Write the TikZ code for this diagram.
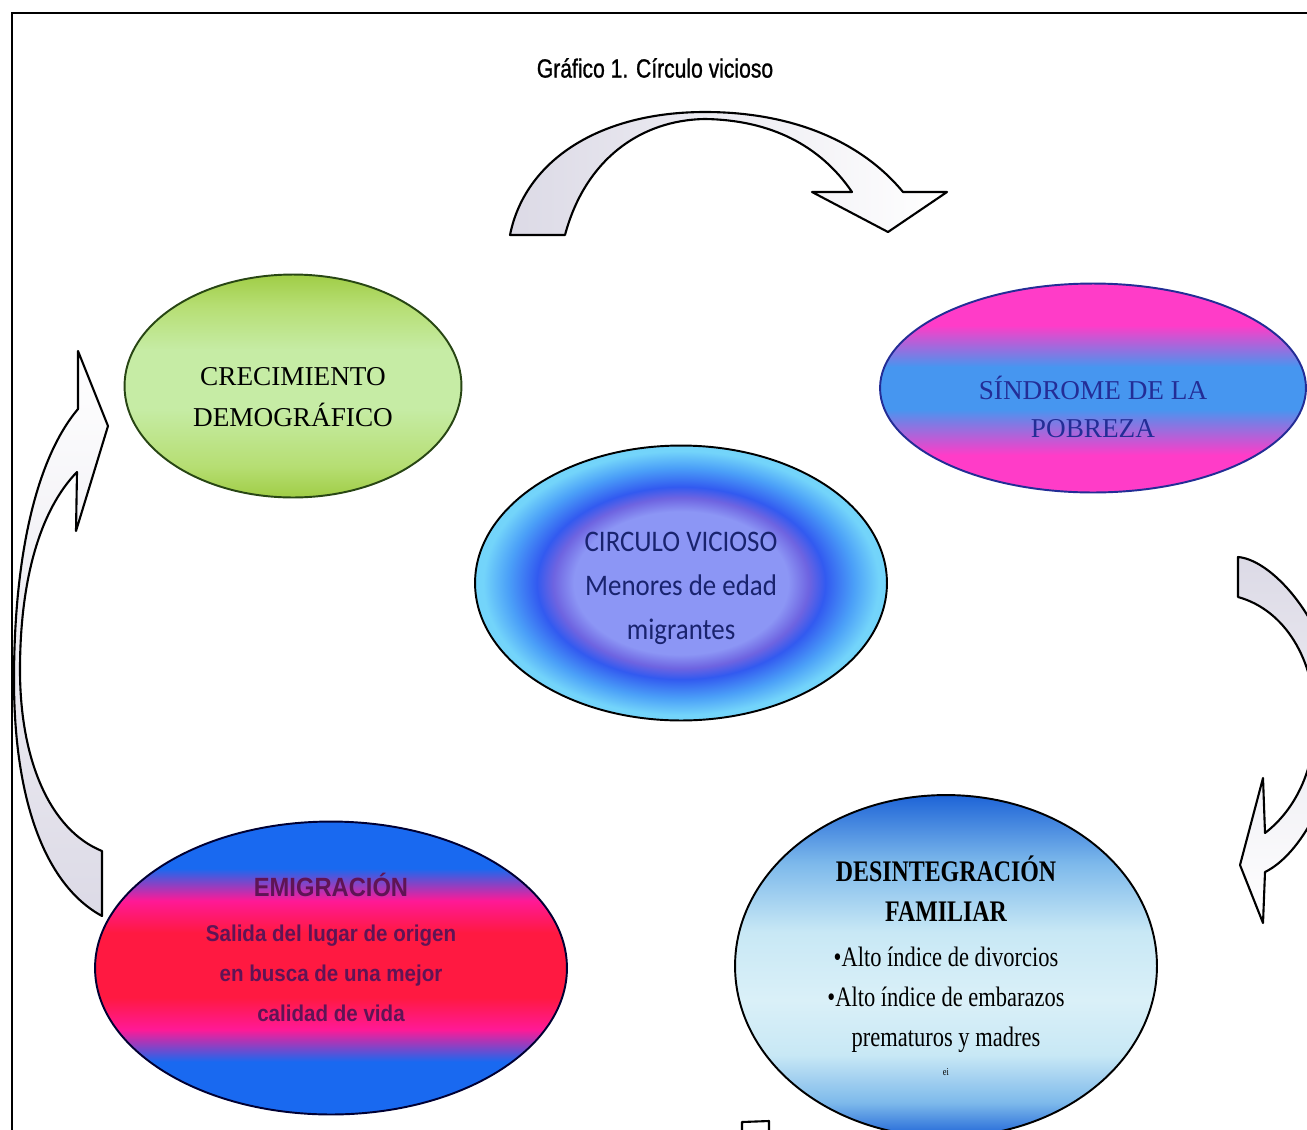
\documentclass[tikz,border=0pt]{standalone}
\usepackage{fontspec}
\setmainfont{Liberation Serif}
\newfontfamily\titlefont[FakeStretch=0.8, FakeBold=1]{Liberation Sans}
\newfontfamily\emifont[FakeStretch=0.9]{Liberation Sans}
\newfontfamily\desfont[FakeStretch=0.8]{Liberation Serif}
\newfontfamily\circfont[FakeStretch=0.9]{Carlito}
\usepackage{tikz}
\usetikzlibrary{shapes}

\definecolor{pobrosa}{RGB}{255,60,200}
\definecolor{pobazul}{RGB}{70,150,240}
\definecolor{pobtexto}{RGB}{35,45,150}
\definecolor{emiazul}{RGB}{25,105,240}
\definecolor{emirosa}{RGB}{255,25,150}
\definecolor{emirojo}{RGB}{255,25,65}
\definecolor{emitexto}{RGB}{95,20,85}
\definecolor{desazul}{RGB}{30,100,215}
\definecolor{desmedio}{RGB}{125,185,235}
\definecolor{desclaro}{RGB}{200,232,245}
\definecolor{desblanco}{RGB}{218,240,248}
\definecolor{crecborde}{RGB}{160,205,70}
\definecolor{crecmedio}{RGB}{182,222,115}
\definecolor{crecclaro}{RGB}{198,236,165}
\definecolor{crecline}{RGB}{40,70,20}
\definecolor{circcentro}{RGB}{140,150,245}
\definecolor{circanillo}{RGB}{110,100,225}
\definecolor{circazul}{RGB}{50,90,240}
\definecolor{circceleste}{RGB}{75,160,248}
\definecolor{circborde}{RGB}{115,212,250}
\definecolor{circtexto}{RGB}{25,35,110}
\definecolor{flechagris}{RGB}{220,218,230}

\pgfdeclareverticalshading{pobreza}{100bp}{color(0bp)=(pobrosa); color(34bp)=(pobrosa); color(45bp)=(pobazul); color(55bp)=(pobazul); color(65bp)=(pobrosa); color(100bp)=(pobrosa)}
\pgfdeclareverticalshading{emigracion}{100bp}{color(0bp)=(emiazul); color(34bp)=(emiazul); color(39.5bp)=(emirosa); color(45bp)=(emirojo); color(56bp)=(emirojo); color(61.5bp)=(emirosa); color(67bp)=(emiazul); color(100bp)=(emiazul)}
\pgfdeclareverticalshading{desintegracion}{100bp}{color(0bp)=(desazul); color(25bp)=(desazul); color(30bp)=(desmedio); color(37bp)=(desclaro); color(45bp)=(desblanco); color(55bp)=(desclaro); color(65bp)=(desmedio); color(75bp)=(desazul); color(100bp)=(desazul)}
\pgfdeclareverticalshading{crecimiento}{100bp}{color(0bp)=(crecborde); color(25bp)=(crecborde); color(32bp)=(crecmedio); color(45bp)=(crecclaro); color(58bp)=(crecclaro); color(68bp)=(crecmedio); color(75bp)=(crecborde); color(100bp)=(crecborde)}
\pgfdeclareradialshading{circulo}{\pgfpointorigin}{color(0bp)=(circcentro); color(13bp)=(circcentro); color(15.5bp)=(circanillo); color(17.5bp)=(circazul); color(21bp)=(circceleste); color(24bp)=(circborde); color(50bp)=(circborde)}

\tikzset{
  bubble/.style = {ellipse, inner sep = 0pt, line width = 1.1pt},
  bubbletext/.style = {align = center, inner sep = 0pt},
  flecha/.style = {draw = black, line width = 1.2pt, line join = round},
}

\begin{document}
\begin{tikzpicture}[x = 0.02cm, y = -0.02cm]
\useasboundingbox (0,0) rectangle (1307,1129);
\clip (0,0) rectangle (1307,1129);
\fill[white] (0,0) rectangle (1307,1129);

% marco
\draw[line width = 1pt] (12,1140) -- (12,13) -- (1320,13);

\draw (655,68) node[name = titulo, font = \titlefont\fontsize{15}{18}\selectfont]{Gráfico 1. Círculo vicioso};

% elipses
\draw (293,386) node[name = crec, bubble, draw = crecline, shading = crecimiento, minimum width = 6.74cm, minimum height = 4.46cm]{};
\draw (crec.center) + (0,11) node[name = crectxt, bubbletext, font = \fontsize{15.5}{23}\selectfont]{CRECIMIENTO\\DEMOGRÁFICO};

\draw (1093,388) node[name = pob, bubble, draw = pobtexto, shading = pobreza, minimum width = 8.52cm, minimum height = 4.18cm]{};
\draw (pob.center) + (0,19) node[name = pobtxt, bubbletext, text = pobtexto, font = \fontsize{15.5}{22}\selectfont]{SÍNDROME DE LA\\POBREZA};

\draw (681,583) node[name = circ, bubble, draw = black, shading = circulo, minimum width = 8.24cm, minimum height = 5.5cm]{};
\draw (circ.center) + (0,5) node[name = circtxt, bubbletext, text = circtexto, font = \circfont\fontsize{17}{25}\selectfont]{CIRCULO VICIOSO\\Menores de edad\\migrantes};

\draw (331,968) node[name = emi, bubble, draw = black!80!blue, shading = emigracion, minimum width = 9.44cm, minimum height = 5.86cm]{};
\draw (emi.center) + (0,-21) node[name = emitxt, bubbletext, text = emitexto, font = \emifont\bfseries\fontsize{13}{22.7}\selectfont]{{\fontsize{15}{22.7}\selectfont EMIGRACIÓN}\\[3pt]Salida del lugar de origen\\en busca de una mejor\\calidad de vida};

\draw (946,966) node[name = des, bubble, draw = black, shading = desintegracion, minimum width = 8.44cm, minimum height = 6.84cm]{};
\draw (des.center) + (0,0) node[name = destxt, bubbletext, font = \desfont\fontsize{16}{22.7}\selectfont]{{\bfseries\fontsize{17}{22.7}\selectfont DESINTEGRACIÓN}\\{\bfseries\fontsize{17}{22.7}\selectfont FAMILIAR}\\[3pt]•Alto índice de divorcios\\•Alto índice de embarazos\\prematuros y madres\\[-6pt]{\fontsize{6}{8}\selectfont ei}};

% flechas
\draw[flecha, left color = flechagris, right color = white]
  (510,235) .. controls (525,160) and (600,112) .. (705,112)
  .. controls (790,112) and (860,140) .. (903,192)
  -- (947,192) -- (888,232) -- (812,192) -- (852,192)
  .. controls (820,145) and (770,120) .. (705,119)
  .. controls (640,120) and (585,160) .. (565,235) -- cycle;

\draw[flecha, top color = flechagris, bottom color = white]
  (1238,557) .. controls (1275,560) and (1335,630) .. (1338,715)
  .. controls (1338,790) and (1300,855) .. (1265,872)
  -- (1263,923) -- (1240,865) -- (1263,778) -- (1265,833)
  .. controls (1295,810) and (1315,770) .. (1315,720)
  .. controls (1315,660) and (1285,610) .. (1238,597) -- cycle;

\draw[flecha, top color = white, bottom color = flechagris]
  (78,351) -- (108,426) -- (76,531) -- (77,472)
  .. controls (40,510) and (20,580) .. (20,670)
  .. controls (20,760) and (50,830) .. (102,851)
  -- (102,916)
  .. controls (45,885) and (14,800) .. (14,680)
  .. controls (14,560) and (35,460) .. (78,409) -- cycle;

\draw[flecha, fill = white] (742,1140) -- (742,1122) -- (769,1121) -- (769,1140);

\end{tikzpicture}
\end{document}
